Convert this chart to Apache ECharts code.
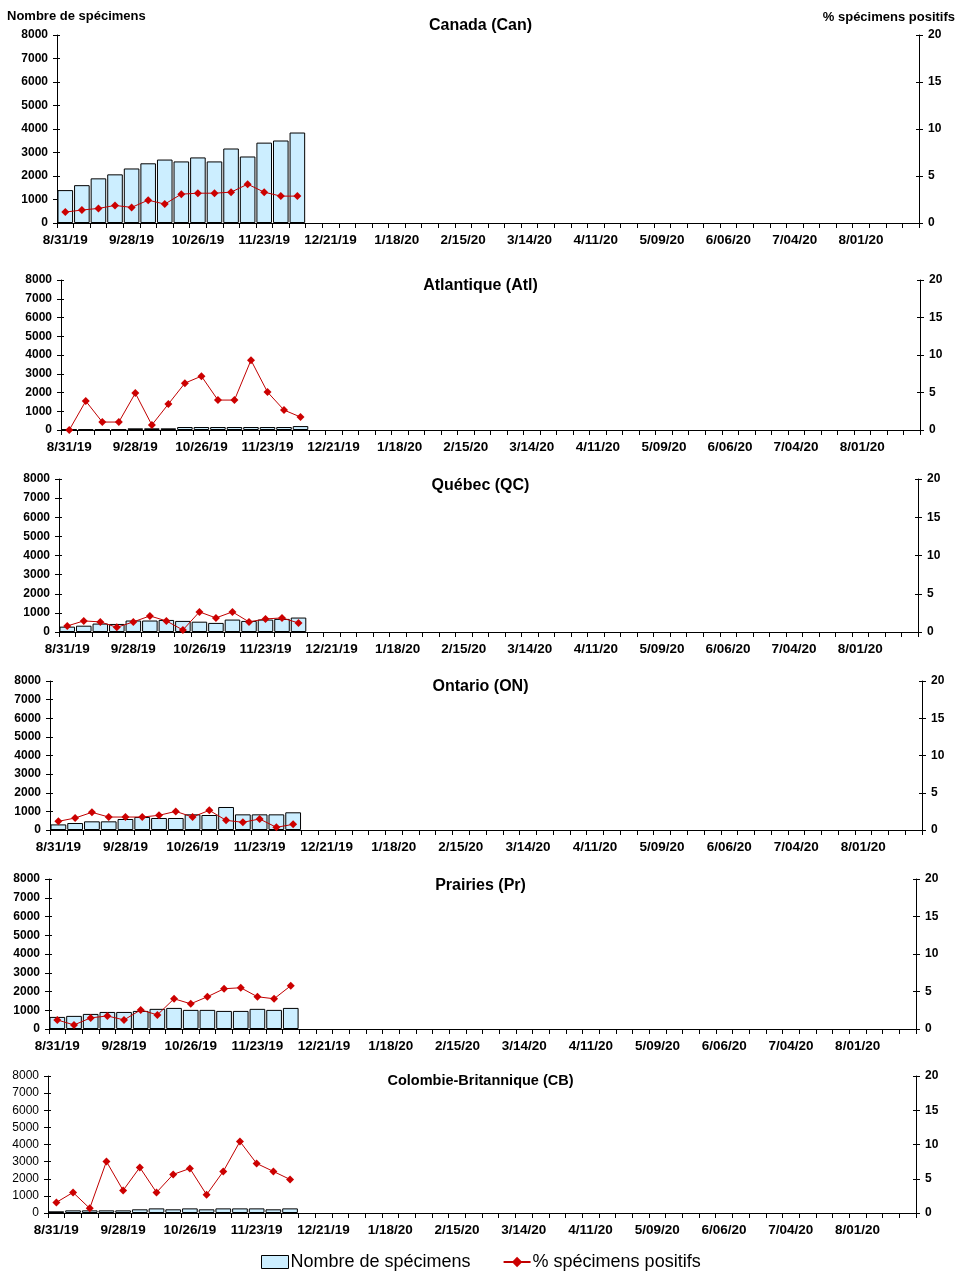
<!DOCTYPE html>
<html>
<head>
<meta charset="utf-8">
<script src="https://cdn.jsdelivr.net/npm/echarts@6/dist/echarts.min.js"></script>
<style>
  html, body { margin: 0; padding: 0; background: #fff; }
  #chart { width: 961px; height: 1283px; }
</style>
</head>
<body>
<div id="chart"></div>
<script>
// weeks (52), one label every 4 weeks is shown
const weeks = [
  '8/31/19', '9/07/19', '9/14/19', '9/21/19', '9/28/19', '10/05/19', '10/12/19', '10/19/19',
  '10/26/19', '11/02/19', '11/09/19', '11/16/19', '11/23/19', '11/30/19', '12/07/19', '12/14/19',
  '12/21/19', '12/28/19', '1/04/20', '1/11/20', '1/18/20', '1/25/20', '2/01/20', '2/08/20',
  '2/15/20', '2/22/20', '2/29/20', '3/07/20', '3/14/20', '3/21/20', '3/28/20', '4/04/20',
  '4/11/20', '4/18/20', '4/25/20', '5/02/20', '5/09/20', '5/16/20', '5/23/20', '5/30/20',
  '6/06/20', '6/13/20', '6/20/20', '6/27/20', '7/04/20', '7/11/20', '7/18/20', '7/25/20',
  '8/01/20', '8/08/20', '8/15/20', '8/22/20'
];

const regionNames = [
  'Canada (Can)', 'Atlantique (Atl)', 'Québec (QC)',
  'Ontario (ON)', 'Prairies (Pr)', 'Colombie-Britannique (CB)'
];

// Nombre de spécimens
const canSpecimens = [1400, 1610, 1900, 2070, 2320, 2540, 2700, 2620, 2790, 2620, 3170, 2830, 3420, 3510, 3850];
const atlSpecimens = [35, 35, 35, 35, 90, 90, 90, 160, 160, 160, 160, 160, 160, 160, 210];
const qcSpecimens  = [280, 330, 440, 420, 600, 600, 630, 580, 540, 475, 650, 580, 650, 685, 755];
const onSpecimens  = [300, 375, 465, 465, 590, 700, 645, 645, 840, 805, 1235, 840, 840, 840, 950];
const prSpecimens  = [645, 700, 805, 910, 910, 965, 1075, 1125, 1020, 1020, 965, 965, 1075, 1020, 1125];
const cbSpecimens  = [100, 155, 155, 155, 155, 215, 270, 215, 270, 215, 270, 270, 270, 215, 270];

// % spécimens positifs
const canPositive = [1.16, 1.38, 1.55, 1.87, 1.66, 2.43, 2.01, 3.07, 3.17, 3.17, 3.28, 4.13, 3.28, 2.86, 2.86];
const atlPositive = [0, 3.86, 1.06, 1.06, 4.92, 0.67, 3.46, 6.25, 7.18, 3.99, 3.99, 9.31, 5.06, 2.66, 1.73];
const qcPositive  = [0.79, 1.45, 1.32, 0.61, 1.32, 2.1, 1.45, 0.26, 2.63, 1.84, 2.63, 1.32, 1.71, 1.84, 1.18];
const onPositive  = [1.16, 1.61, 2.37, 1.74, 1.74, 1.74, 1.97, 2.5, 1.74, 2.64, 1.3, 1.03, 1.48, 0.36, 0.76];
const prPositive  = [1.21, 0.54, 1.48, 1.74, 1.21, 2.55, 1.88, 4.03, 3.36, 4.3, 5.37, 5.5, 4.3, 4.03, 5.77];
const cbPositive  = [1.55, 3.0, 0.68, 7.52, 3.3, 6.65, 3.0, 5.63, 6.5, 2.67, 6.07, 10.44, 7.23, 6.07, 4.9];

const specimens = [canSpecimens, atlSpecimens, qcSpecimens, onSpecimens, prSpecimens, cbSpecimens];
const positive = [canPositive, atlPositive, qcPositive, onPositive, prPositive, cbPositive];

const leftTicks = [0, 8000, 1000];
const rightTicks = [0, 20, 5];

// plot boxes: left, right edge, top, bottom (pixels)
const boxes = [
  [57, 919, 35, 223],
  [61, 920, 280, 430],
  [59, 918, 479, 632],
  [50, 922, 681, 830],
  [49, 916, 879, 1029],
  [48, 916, 1076, 1213]
];
const titleTops = [18, 278, 478, 679, 878, 1073];

const FONT = 'Liberation Sans, Arial, sans-serif';
const BAR_NAME = 'Nombre de spécimens';
const LINE_NAME = '% spécimens positifs';

const chart = echarts.init(document.getElementById('chart'));

const grids = [], xAxes = [], yAxes = [], series = [], titles = [];
const plain = (v) => String(v);

boxes.forEach((b, i) => {
  grids.push({ left: b[0], top: b[2], width: b[1] - b[0], height: b[3] - b[2], containLabel: false });

  titles.push({
    text: regionNames[i], left: 'center', top: titleTops[i], padding: 0,
    textStyle: { fontFamily: FONT, fontWeight: 'bold', fontSize: i === 5 ? 14.5 : 16, color: '#000' }
  });

  const tickLabel = { fontFamily: FONT, fontWeight: 'bold', fontSize: 12, color: '#000' };
  const axisLine = { show: true, lineStyle: { color: '#000', width: 1 } };

  // main x axis + one with inward ticks so they cross the line
  xAxes.push({
    type: 'category', gridIndex: i, data: weeks, boundaryGap: true,
    axisLine: axisLine,
    axisTick: { show: true, interval: 0, length: 5, lineStyle: { color: '#000' } },
    axisLabel: Object.assign({}, tickLabel, { interval: 3, margin: 10, fontSize: 13.5 }),
    splitLine: { show: false }
  });
  xAxes.push({
    type: 'category', gridIndex: i, data: weeks, boundaryGap: true,
    axisLine: { show: false },
    axisTick: { show: true, inside: true, interval: 0, length: 3, lineStyle: { color: '#000' } },
    axisLabel: { show: false }, splitLine: { show: false }
  });

  const leftLabel = i === 5
    ? { fontFamily: FONT, fontWeight: 'normal', fontSize: 12, color: '#000' }
    : tickLabel;

  yAxes.push({
    type: 'value', gridIndex: i, position: 'left',
    min: leftTicks[0], max: leftTicks[1], interval: leftTicks[2],
    axisLine: axisLine,
    axisTick: { show: true, length: 4, lineStyle: { color: '#000' } },
    axisLabel: Object.assign({ margin: 9, formatter: plain }, leftLabel),
    splitLine: { show: false }
  });
  yAxes.push({
    type: 'value', gridIndex: i, position: 'right',
    min: rightTicks[0], max: rightTicks[1], interval: rightTicks[2],
    axisLine: axisLine,
    axisTick: { show: true, length: 4, lineStyle: { color: '#000' } },
    axisLabel: Object.assign({ margin: 9, formatter: plain }, tickLabel),
    splitLine: { show: false }
  });
  yAxes.push({
    type: 'value', gridIndex: i, position: 'left',
    min: leftTicks[0], max: leftTicks[1], interval: leftTicks[2],
    axisLine: { show: false },
    axisTick: { show: true, inside: true, length: 3, lineStyle: { color: '#000' } },
    axisLabel: { show: false }, splitLine: { show: false }
  });
  yAxes.push({
    type: 'value', gridIndex: i, position: 'right',
    min: rightTicks[0], max: rightTicks[1], interval: rightTicks[2],
    axisLine: { show: false },
    axisTick: { show: true, inside: true, length: 3, lineStyle: { color: '#000' } },
    axisLabel: { show: false }, splitLine: { show: false }
  });

  series.push({
    name: BAR_NAME, type: 'bar', xAxisIndex: 2 * i, yAxisIndex: 4 * i,
    data: specimens[i], barCategoryGap: '6%',
    itemStyle: { color: '#CCEEFF', borderColor: '#000', borderWidth: 1 },
    z: 2
  });
  series.push({
    name: LINE_NAME, type: 'line', xAxisIndex: 2 * i, yAxisIndex: 4 * i + 1,
    data: positive[i],
    symbol: 'diamond', symbolSize: 8,
    lineStyle: { color: '#C00000', width: 1 },
    itemStyle: { color: '#CC0000' },
    z: 3
  });
});

titles.push({
  text: 'Nombre de spécimens', left: 7, top: 10, padding: 0,
  textStyle: { fontFamily: FONT, fontWeight: 'bold', fontSize: 13, color: '#000' }
});
titles.push({
  text: '% spécimens positifs', right: 6, top: 11, padding: 0,
  textStyle: { fontFamily: FONT, fontWeight: 'bold', fontSize: 13, color: '#000' }
});

chart.setOption({
  animation: false,
  backgroundColor: '#fff',
  title: titles,
  legend: {
    data: [
      { name: BAR_NAME, icon: 'rect', itemStyle: { color: '#CCEEFF', borderColor: '#000', borderWidth: 1 } },
      { name: LINE_NAME }
    ],
    left: 256, top: 1248,
    itemWidth: 27, itemHeight: 13, itemGap: 32,
    textStyle: { fontFamily: FONT, fontSize: 18, color: '#000', padding: [0, 0, 0, -3] }
  },
  grid: grids,
  xAxis: xAxes,
  yAxis: yAxes,
  series: series
});
</script>
</body>
</html>
